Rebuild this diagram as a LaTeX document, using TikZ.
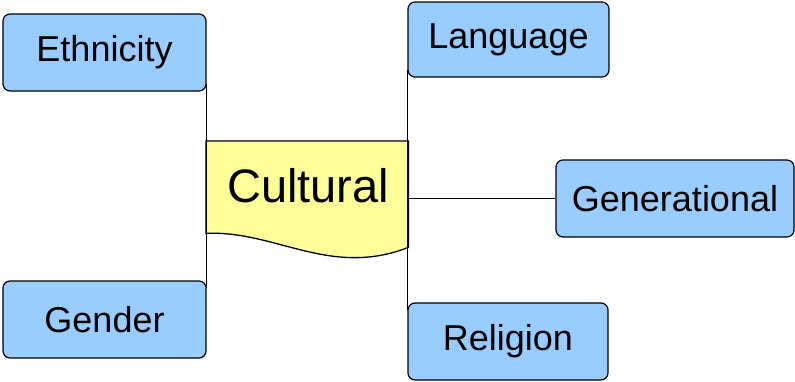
\documentclass[tikz,border=0pt]{standalone}
\usepackage{fontspec}
\setmainfont{Liberation Sans}
\usepackage{tikz}
\usetikzlibrary{calc}
\definecolor{boxblue}{HTML}{99CCFF}
\definecolor{boxyellow}{HTML}{FFFF99}
\tikzset{
	topic/.style={draw=black, fill=boxblue, line width=1.2pt, rounded corners=7pt, minimum height=77pt, inner sep=0pt, font=\fontsize{36}{40}\selectfont},
	link/.style={line width=1.3pt}
}

\begin{document}
\begin{tikzpicture}[x=1pt, y=-1pt]
			%%%%% START %%%%%
			
			\useasboundingbox (0, 0) rectangle (795, 381);
			
			\node[topic, minimum width=203pt] (ethnicity) at (104.5, 52.5) {Ethnicity};
			\node[topic, minimum width=203pt] (gender) at (104.5, 319.5) {Gender};
			\node[topic, minimum width=201pt, minimum height=75pt] (language) at (508.5, 39.5) {Language};
			\node[topic, minimum width=200pt] (religion) at (508, 341.5) {Religion};
			\node[topic, minimum width=238pt] (generational) at (675, 198.5) {Generational};
			
			\node[minimum width=202pt, minimum height=92pt, inner sep=0pt, anchor=north west, font=\fontsize{47}{50}\selectfont] (cultural) at (206, 141) {};
			\draw[link, fill=boxyellow] (cultural.north west) -- (cultural.north east) -- ($(cultural.south east)+(0, 14)$)
				.. controls (330, 278) and (275, 230) .. (cultural.south west) -- cycle;
			\node[font=\fontsize{47}{50}\selectfont] at ($(cultural.center)+(1, -2)$) {Cultural};
			
			\draw[link] ($(ethnicity.south east)+(0, -8)$) -- ($(gender.north east)+(0, 8)$);
			\draw[link] ($(language.south west)+(0, -8)$) -- ($(religion.north west)+(0, 8)$);
			\draw[link] (generational.west) -- (generational.west -| cultural.east);
			
			%%%%% END %%%%%
		\end{tikzpicture}
\end{document}
